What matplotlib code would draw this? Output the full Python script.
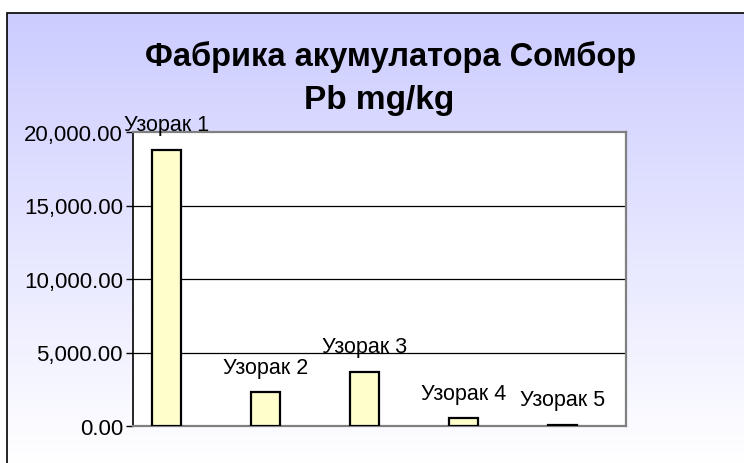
import numpy as np
import matplotlib
matplotlib.use("Agg")
import matplotlib.pyplot as plt
from matplotlib.patches import Rectangle
from matplotlib.ticker import FuncFormatter

plt.rcParams["font.family"] = ["Liberation Sans", "DejaVu Sans"]

# ── data ──────────────────────────────────────────────────────────────────
samples = ["Узорак 1", "Узорак 2", "Узорак 3", "Узорак 4", "Узорак 5"]
pb_mg_kg = [18800, 2300, 3700, 540, 100]
y_ticks = [0, 5000, 10000, 15000, 20000]

W, H = 744, 464
fig = plt.figure(figsize=(W / 100, H / 100), dpi=100)
fig.patch.set_facecolor("white")

# lavender-to-white chart background with black frame
x0, y1 = 7 / W, 1 - 14 / H
bg = fig.add_axes([x0, 0, 1 - x0, y1], zorder=0)
grad = np.linspace(0, 1, 256)[:, None]
top = np.array([204, 204, 255]) / 255
bot = np.array([255, 255, 255]) / 255
img = top[None, None, :] * (1 - grad[..., None]) + bot[None, None, :] * grad[..., None]
bg.imshow(img, aspect="auto", extent=[0, 1, 0, 1], origin="upper")
bg.set_xlim(0, 1)
bg.set_ylim(0, 1)
bg.axis("off")
fig.add_artist(Rectangle((x0, -0.01), 1, y1 + 0.01, transform=fig.transFigure,
                         fill=False, edgecolor="black", linewidth=1.2, zorder=5))

fig.text(0.525, 1 - 57 / H, "Фабрика акумулатора Сомбор", ha="center", va="center",
         fontsize=23.5, fontweight="bold", color="black")
fig.text(0.51, 1 - 101 / H, "Pb mg/kg", ha="center", va="center",
         fontsize=24, fontweight="bold", color="black")

# plot area
L, R, T, B = 132.7, 625.7, 133, 427
ax = fig.add_axes([L / W, 1 - B / H, (R - L) / W, (B - T) / H], zorder=2)
ax.set_facecolor("white")

x = np.arange(len(samples))
ax.bar(x, pb_mg_kg, width=0.293, color="#FFFFCC", edgecolor="black",
       linewidth=1.6, zorder=3)

for xi, v, name in zip(x, pb_mg_kg, samples):
    ax.annotate(name, (xi, v), xytext=(0, 14), textcoords="offset points",
                ha="center", va="baseline", fontsize=15.5, color="black",
                annotation_clip=False, zorder=4)

ax.set_xlim(-0.344, 4.641)
ax.set_ylim(0, 20000)
ax.set_yticks(y_ticks)
ax.yaxis.set_major_formatter(FuncFormatter(lambda v, p: f"{v:,.2f}"))
ax.set_xticks([])
for g in y_ticks[1:-1]:
    ax.axhline(g, color="black", linewidth=0.9, zorder=1)

for side in ["top", "right", "bottom"]:
    ax.spines[side].set_color("#808080")
    ax.spines[side].set_linewidth(1.6)
ax.spines["left"].set_color("black")
ax.spines["left"].set_linewidth(1.2)
ax.tick_params(axis="y", direction="out", length=5, width=1, colors="black",
               labelsize=16, pad=2)

fig.savefig("out.png", dpi=100)
